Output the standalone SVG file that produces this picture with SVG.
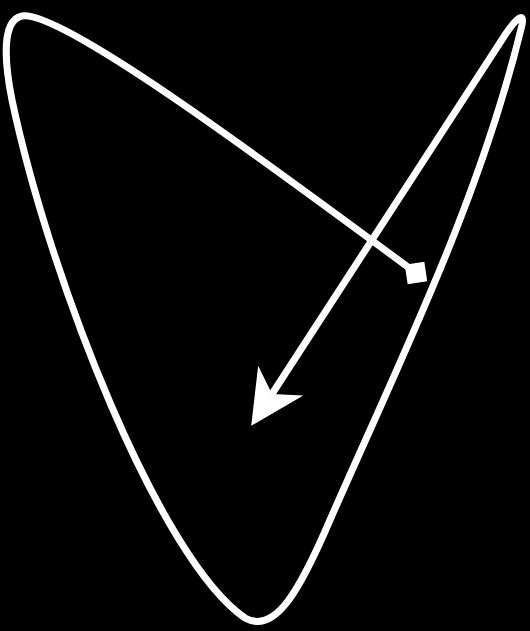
<svg xmlns="http://www.w3.org/2000/svg" width="530" height="631" viewBox="0 0 530 631">
<defs>
<style>
.curve{fill:none;stroke:#ffffff;stroke-width:7;stroke-linecap:butt;stroke-linejoin:round}
</style>
<marker id="diamond" markerUnits="userSpaceOnUse" viewBox="-16 -16 32 32" markerWidth="32" markerHeight="32" refX="0" refY="0" orient="auto">
<path d="M -14 0 L 0 -14 L 14 0 L 0 14 Z" fill="#ffffff"/>
</marker>
<marker id="arrow" markerUnits="userSpaceOnUse" viewBox="-2 -30 58 60" markerWidth="58" markerHeight="60" refX="16" refY="0" orient="auto">
<path d="M 54 0 L 0 -27 L 16 0 L 0 27 Z" fill="#ffffff"/>
</marker>
</defs>
<rect width="530" height="631" fill="#000000"/>
<g id="connectors">
<path class="curve" marker-start="url(#diamond)" marker-end="url(#arrow)" d="M 416 273 C 250 150, 60 10, 22 16 C 2 20, 4 60, 12 100 C 50 280, 160 560, 245 618 C 275 635, 300 590, 330 520 C 400 360, 480 200, 522 25 C 525 10, 515 20, 505 35 C 430 150, 340 290, 272 394"/>
</g>
</svg>
